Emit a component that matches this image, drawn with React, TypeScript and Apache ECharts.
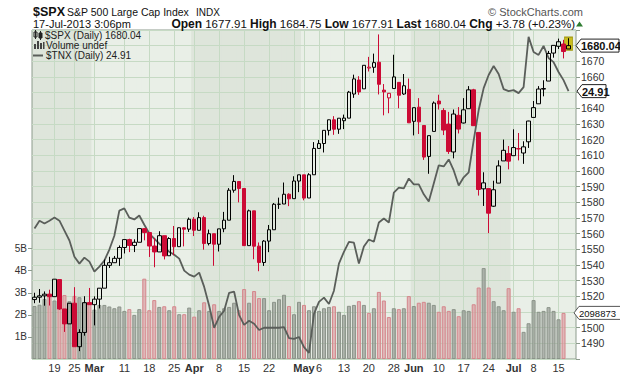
import { useEffect, useRef } from 'react';
import * as echarts from 'echarts';

const FONT = '"Liberation Sans", Arial, sans-serif';

const dates = [
  '2013-02-12','2013-02-13','2013-02-14','2013-02-15','2013-02-19','2013-02-20','2013-02-21','2013-02-22','2013-02-25','2013-02-26','2013-02-27','2013-02-28',
  '2013-03-01','2013-03-04','2013-03-05','2013-03-06','2013-03-07','2013-03-08','2013-03-11','2013-03-12','2013-03-13','2013-03-14','2013-03-15','2013-03-18','2013-03-19','2013-03-20','2013-03-21','2013-03-22','2013-03-25','2013-03-26','2013-03-27','2013-03-28',
  '2013-04-01','2013-04-02','2013-04-03','2013-04-04','2013-04-05','2013-04-08','2013-04-09','2013-04-10','2013-04-11','2013-04-12','2013-04-15','2013-04-16','2013-04-17','2013-04-18','2013-04-19','2013-04-22','2013-04-23','2013-04-24','2013-04-25','2013-04-26','2013-04-29','2013-04-30',
  '2013-05-01','2013-05-02','2013-05-03','2013-05-06','2013-05-07','2013-05-08','2013-05-09','2013-05-10','2013-05-13','2013-05-14','2013-05-15','2013-05-16','2013-05-17','2013-05-20','2013-05-21','2013-05-22','2013-05-23','2013-05-24','2013-05-28','2013-05-29','2013-05-30','2013-05-31',
  '2013-06-03','2013-06-04','2013-06-05','2013-06-06','2013-06-07','2013-06-10','2013-06-11','2013-06-12','2013-06-13','2013-06-14','2013-06-17','2013-06-18','2013-06-19','2013-06-20','2013-06-21','2013-06-24','2013-06-25','2013-06-26','2013-06-27','2013-06-28',
  '2013-07-01','2013-07-02','2013-07-03','2013-07-05','2013-07-08','2013-07-09','2013-07-10','2013-07-11','2013-07-12','2013-07-15','2013-07-16','2013-07-17'
];

const opens = [
  1517.93,1519.43,1520.33,1521.38,1519.79,1530.69,1511.95,1502.42,1515.60,1487.85,1496.94,1515.99,
  1514.68,1518.20,1525.20,1539.79,1541.46,1544.26,1551.15,1556.22,1552.48,1554.52,1563.21,1560.70,1552.10,1548.34,1558.71,1545.90,1556.89,1551.69,1563.75,1562.86,
  1569.18,1562.17,1570.25,1553.69,1559.98,1553.26,1563.11,1568.61,1587.73,1593.30,1588.84,1552.36,1574.57,1552.03,1541.61,1555.25,1562.50,1578.78,1578.93,1585.16,1582.34,1593.58,
  1597.55,1582.77,1597.60,1614.40,1617.55,1625.95,1632.69,1626.69,1632.10,1633.75,1649.13,1658.07,1652.45,1665.71,1666.20,1669.39,1651.62,1646.67,1652.63,1656.57,1649.14,1652.13,
  1631.71,1640.73,1629.05,1609.29,1625.27,1644.67,1638.64,1629.94,1612.15,1635.52,1630.64,1639.77,1651.83,1624.62,1588.62,1588.77,1577.52,1592.27,1606.44,1611.12,
  1609.78,1614.29,1611.48,1618.65,1634.20,1642.89,1652.29,1657.41,1675.26,1679.59,1681.05,1677.91
];
const highs = [
  1522.29,1524.69,1523.14,1524.24,1530.94,1530.69,1511.95,1515.64,1525.84,1498.99,1520.08,1525.34,
  1519.99,1525.27,1543.47,1545.25,1545.78,1552.48,1556.27,1556.77,1556.39,1563.32,1563.62,1560.70,1557.25,1561.56,1558.71,1557.74,1564.91,1563.95,1564.07,1570.28,
  1570.57,1573.66,1571.47,1562.60,1559.98,1563.07,1573.89,1589.07,1597.35,1593.30,1588.84,1575.35,1574.57,1554.38,1555.89,1565.55,1579.58,1583.00,1592.64,1585.78,1596.65,1597.57,
  1597.55,1598.60,1618.46,1619.77,1626.03,1632.78,1635.01,1633.70,1636.00,1651.10,1661.49,1660.51,1667.47,1672.84,1674.93,1687.18,1655.50,1649.78,1674.21,1656.57,1661.91,1658.99,
  1640.42,1646.53,1629.31,1622.56,1644.40,1648.69,1640.13,1637.71,1639.25,1640.80,1646.50,1654.19,1652.45,1624.62,1599.19,1588.77,1593.79,1606.83,1620.07,1615.94,
  1626.61,1624.26,1618.97,1632.07,1644.68,1654.18,1657.92,1676.63,1680.19,1684.51,1683.73,1684.75
];
const lows = [
  1515.61,1515.93,1514.02,1514.14,1519.79,1511.41,1497.29,1502.42,1487.85,1485.01,1494.88,1514.46,
  1501.48,1512.29,1525.20,1538.11,1541.46,1539.46,1547.36,1548.24,1548.25,1554.52,1555.74,1545.13,1538.57,1548.34,1543.55,1545.90,1546.22,1551.69,1551.90,1561.08,
  1558.47,1562.17,1549.80,1552.52,1539.50,1548.63,1560.92,1568.61,1586.17,1579.97,1552.28,1552.36,1543.69,1536.03,1539.40,1548.19,1562.50,1575.80,1578.93,1577.56,1582.34,1586.50,
  1581.28,1582.77,1597.60,1614.21,1611.82,1622.70,1623.09,1623.71,1626.74,1633.75,1646.68,1648.60,1652.45,1663.52,1662.67,1648.86,1635.53,1636.88,1652.63,1640.05,1648.61,1630.74,
  1622.72,1623.62,1607.09,1598.23,1625.27,1639.26,1622.92,1610.92,1608.07,1623.96,1630.34,1639.77,1628.91,1584.32,1577.70,1560.33,1577.09,1592.27,1606.44,1601.06,
  1609.78,1606.77,1604.57,1614.71,1634.20,1642.89,1647.66,1657.41,1672.33,1677.89,1671.84,1677.91
];
const closes = [
  1519.43,1520.33,1521.38,1519.79,1530.94,1511.95,1502.42,1515.60,1487.85,1496.94,1515.99,1514.68,
  1518.20,1525.20,1539.79,1541.46,1544.26,1551.18,1556.22,1552.48,1554.52,1563.23,1560.70,1552.10,1548.34,1558.71,1545.80,1556.89,1551.69,1563.77,1562.85,1569.19,
  1562.17,1570.25,1553.69,1559.98,1553.28,1563.07,1568.61,1587.73,1593.37,1588.85,1552.36,1574.57,1552.01,1541.61,1555.25,1562.50,1578.78,1578.79,1585.16,1582.24,1593.61,1597.57,
  1582.70,1597.59,1614.42,1617.50,1625.96,1632.69,1626.67,1633.70,1633.77,1650.34,1658.78,1650.47,1667.47,1666.29,1669.16,1655.35,1650.51,1649.60,1660.06,1648.36,1654.41,1630.74,
  1640.42,1631.38,1608.90,1622.56,1643.38,1642.81,1626.13,1612.52,1636.36,1626.73,1639.04,1651.81,1628.93,1588.19,1592.43,1573.09,1588.03,1603.26,1613.20,1606.28,
  1614.96,1614.08,1615.41,1631.89,1640.46,1652.32,1652.62,1675.02,1680.19,1682.50,1676.26,1680.04
];

// volume in billions (last day not yet drawn)
const volumes: (number | null)[] = [
  2.40,2.46,2.72,2.95,2.65,2.88,2.90,2.62,2.86,2.80,2.55,2.58,
  2.24,2.45,2.45,2.38,2.30,2.38,2.18,2.26,2.00,2.26,3.64,2.21,2.67,2.36,2.39,2.21,2.39,2.03,2.03,2.33,
  1.92,2.21,2.57,2.18,2.48,2.18,2.30,2.36,2.55,2.21,3.17,2.55,3.08,2.76,2.76,2.21,2.59,2.71,2.91,2.40,2.03,2.59,
  2.45,2.21,2.39,2.18,2.30,2.36,2.39,2.14,2.00,2.41,2.45,2.62,2.45,2.09,2.30,3.04,2.65,1.90,2.30,2.26,2.30,2.85,
  2.40,2.55,2.59,2.55,2.45,2.14,2.39,2.18,2.26,1.94,2.21,2.18,2.48,3.24,4.12,3.24,2.62,2.39,2.21,3.21,
  2.14,2.30,1.23,1.62,2.67,2.14,2.18,2.35,2.18,1.80,2.09,null
];
const lastVolumeLabel = '2098873';

const tnx = [
  20.01,20.26,20.17,20.26,20.36,20.26,19.94,19.63,19.13,18.92,19.10,18.98,
  18.68,18.83,19.01,19.35,19.78,20.59,20.66,20.36,20.30,20.43,20.13,19.85,19.69,19.53,19.41,19.28,19.19,19.07,18.71,18.59,
  18.53,18.65,18.23,17.69,17.08,17.38,17.55,18.06,18.09,17.43,17.16,17.27,17.19,17.02,17.08,17.08,17.08,17.08,17.10,16.80,16.78,16.83,
  16.56,16.41,17.46,17.80,17.92,17.74,18.12,18.92,19.28,19.59,19.56,18.92,19.44,19.66,19.59,20.20,20.33,20.20,21.19,21.36,21.33,21.67,
  21.47,21.47,21.13,20.89,21.50,22.13,22.09,22.34,21.95,21.43,21.71,21.88,23.03,24.17,25.03,25.56,25.93,25.60,24.99,24.91,
  24.95,24.83,25.07,27.16,26.51,26.39,26.77,26.26,26.09,25.68,25.35,24.91
];

const tickDates = ['2013-02-19','2013-02-25','2013-03-01','2013-03-11','2013-03-18','2013-03-25','2013-04-01','2013-04-08','2013-04-15','2013-04-22','2013-05-01','2013-05-06','2013-05-13','2013-05-20','2013-05-28','2013-06-03','2013-06-10','2013-06-17','2013-06-24','2013-07-01','2013-07-08','2013-07-15'];
const tickTexts = ['19','25','Mar','11','18','25','Apr','8','15','22','May','6','13','20','28','Jun','10','17','24','Jul','8','15'];
const extraGridDates = ['2013-04-29'];
const volumeTicks = [1, 2, 3, 4, 5];

const RED = '#cc0a35';
const BLACK = '#000000';

export default function App() {
  const ref = useRef<HTMLDivElement>(null);
  useEffect(() => {
    const chart = echarts.init(ref.current!, null, { renderer: 'svg' });
    const cats = [...dates, 'pad'];
    const labelMap = new Map<string, string>();
    tickDates.forEach((d, i) => labelMap.set(d, tickTexts[i]));
    const gridSet = new Set<string>([...tickDates, ...extraGridDates]);
    const n = dates.length;
    const upDay = (i: number) => (i === 0 ? closes[0] >= opens[0] : closes[i] >= closes[i - 1]);

    const candleData = dates.map((_, i) => {
      const col = upDay(i) ? BLACK : RED;
      const filled = closes[i] < opens[i];
      const fill = filled ? col : 'rgba(0,0,0,0)';
      return {
        value: [opens[i], closes[i], lows[i], highs[i]],
        itemStyle: { color: fill, color0: fill, borderColor: col, borderColor0: col, borderWidth: 1 },
      };
    });
    const volData = volumes.map((v, i) =>
      v == null
        ? '-'
        : {
            value: v,
            itemStyle: upDay(i)
              ? { color: 'rgba(150,155,148,0.7)', borderColor: '#8b9389' }
              : { color: 'rgba(218,160,164,0.7)', borderColor: '#d5868c' },
          }
    );
    const shadeData = cats.map((d) => {
      const m = d === 'pad' ? 7 : parseInt(d.slice(5, 7), 10);
      return { value: 1, itemStyle: { color: m % 2 === 0 ? '#dee5db' : '#e9efe7' } };
    });

    const hidden = [1480, 1510, 1650, 1680, 1690];
    chart.setOption({
      animation: false,
      grid: { left: 32, right: 44, top: 30, bottom: 17, show: true, borderColor: '#8c9b8c', borderWidth: 1, backgroundColor: 'transparent' },
      xAxis: [
        {
          type: 'category', data: cats, boundaryGap: true,
          axisLine: { show: false }, axisTick: { show: false },
          axisLabel: {
            interval: (_i: number, v: string) => labelMap.has(v),
            formatter: (v: string) => {
              const t = labelMap.get(v) || '';
              return /^[A-Z]/.test(t) ? '{m|' + t + '}' : t;
            },
            margin: 3, fontSize: 11, color: '#333', fontFamily: FONT,
            rich: { m: { fontWeight: 'bold', fontSize: 11, color: '#333', fontFamily: FONT } },
          },
          splitLine: {
            show: true, alignWithLabel: true,
            interval: (_i: number, v: string) => gridSet.has(v),
            lineStyle: { color: '#c6dac4', width: 1 },
          },
        },
        { type: 'category', data: cats, boundaryGap: true, show: false },
      ],
      yAxis: [
        {
          type: 'value', position: 'right', min: 1480, max: 1690, interval: 10,
          axisLine: { show: false },
          axisTick: { show: true, length: 4, lineStyle: { color: '#8c9b8c' } },
          axisLabel: { margin: 5, fontSize: 10.5, color: '#333', fontFamily: FONT, formatter: (v: number) => (hidden.includes(v) ? '' : String(v)) },
          splitLine: { show: true, lineStyle: { color: '#c6dac4', width: 1 } },
        },
        {
          type: 'value', position: 'left', min: 0, max: 328 / 22, interval: 1,
          axisLine: { show: false },
          axisTick: { show: true, length: 4, customValues: volumeTicks, lineStyle: { color: '#8c9b8c' } },
          axisLabel: { margin: 5, fontSize: 10, color: '#333', fontFamily: FONT, customValues: volumeTicks,
            formatter: (v: number) => (volumeTicks.includes(v) ? v + 'B' : '') },
          splitLine: { show: false },
        },
        { type: 'log', min: 16.25, max: 27.46, show: false },
        { type: 'value', min: 0, max: 1, show: false },
      ],
      series: [
        { type: 'bar', name: 'shade', xAxisIndex: 1, yAxisIndex: 3, data: shadeData, barWidth: 6, z: -1, silent: true },
        { type: 'bar', name: 'Volume', xAxisIndex: 0, yAxisIndex: 1, data: volData, barWidth: 4, itemStyle: { borderWidth: 1 }, silent: true, z: 2 },
        { type: 'line', name: '$TNX', xAxisIndex: 0, yAxisIndex: 2, data: tnx, symbol: 'none', lineStyle: { color: '#5a5e5a', width: 1.8 }, silent: true, z: 3 },
        {
          type: 'candlestick', name: '$SPX', xAxisIndex: 0, yAxisIndex: 0, data: candleData, barWidth: 4, z: 4, silent: true,
          markPoint: {
            z: 3, silent: true, symbol: 'rect', symbolSize: [8, 13], label: { show: false },
            itemStyle: { color: '#c9bd1f', borderColor: '#a49a12', borderWidth: 1 },
            data: [{ coord: [dates[n - 1], (highs[n - 1] + lows[n - 1]) / 2] }],
          },
        },
      ],
    });

    const yPrice = chart.convertToPixel({ yAxisIndex: 0 }, closes[n - 1]) as number;
    const yTnx = chart.convertToPixel({ yAxisIndex: 2 }, tnx[n - 1]) as number;
    let lastVol = 0;
    for (let i = n - 1; i >= 0; i--) if (volumes[i] != null) { lastVol = volumes[i] as number; break; }
    const yVol = chart.convertToPixel({ yAxisIndex: 1 }, lastVol) as number;

    const box = (y: number, x0: number, x1: number, text: string, bold: boolean, stroke: string, size: number) => [
      { type: 'polygon', z: 100, shape: { points: [[x0, y], [x0 + 5, y - 6.5], [x1, y - 6.5], [x1, y + 6.5], [x0 + 5, y + 6.5]] }, style: { fill: '#fff', stroke, lineWidth: 1 } },
      { type: 'text', z: 101, x: x0 + 5, y: y + 0.5, style: { text, fill: '#111', fontSize: size, fontWeight: bold ? 'bold' : 'normal', fontFamily: FONT, align: 'left', verticalAlign: 'middle' } },
    ];
    const txt = (x: number, y: number, text: string, size: number, extra: any = {}) => ({
      type: 'text', z: 100, x, y, style: { text, fontSize: size, fontFamily: FONT, fill: '#111', verticalAlign: 'middle', align: 'left', ...extra },
    });

    chart.setOption({
      graphic: [
        txt(33, 12, '$SPX', 12.5, { fontWeight: 'bold' }),
        txt(67, 12, 'S&P 500 Large Cap Index', 10.5),
        txt(196, 12.5, 'INDX', 10),
        txt(583, 12, '© StockCharts.com', 11, { align: 'right', fill: '#555' }),
        txt(33, 24, '17-Jul-2013 3:06pm', 11),
        {
          type: 'text', z: 100, x: 575, y: 24,
          style: {
            text: '{b|Open} 1677.91 {b|High} 1684.75 {b|Low} 1677.91 {b|Last} 1680.04 {b|Chg} +3.78 (+0.23%)',
            fontSize: 11.5, fontFamily: FONT, fill: '#111', align: 'right', verticalAlign: 'middle',
            rich: { b: { fontWeight: 'bold', fontSize: 12, fontFamily: FONT, fill: '#111' } },
          },
        },
        { type: 'polygon', z: 100, shape: { points: [[576, 26.5], [583, 26.5], [579.5, 21.5]] }, style: { fill: '#2f7d32' } },
        // legend icons
        { type: 'rect', z: 100, shape: { x: 34, y: 32, width: 3, height: 5 }, style: { fill: 'none', stroke: '#222', lineWidth: 1 } },
        { type: 'line', z: 100, shape: { x1: 35.5, y1: 30, x2: 35.5, y2: 39 }, style: { stroke: '#222', lineWidth: 1 } },
        { type: 'rect', z: 100, shape: { x: 39, y: 33, width: 3, height: 5 }, style: { fill: '#222', stroke: '#222', lineWidth: 1 } },
        { type: 'line', z: 100, shape: { x1: 40.5, y1: 31, x2: 40.5, y2: 40 }, style: { stroke: '#222', lineWidth: 1 } },
        txt(45, 35.5, '$SPX (Daily) 1680.04', 10, { fill: '#222' }),
        { type: 'rect', z: 100, shape: { x: 34, y: 44, width: 2, height: 5 }, style: { fill: '#444' } },
        { type: 'rect', z: 100, shape: { x: 37, y: 41, width: 2, height: 8 }, style: { fill: '#444' } },
        { type: 'rect', z: 100, shape: { x: 40, y: 43, width: 2, height: 6 }, style: { fill: '#444' } },
        { type: 'rect', z: 100, shape: { x: 43, y: 42, width: 1.5, height: 7 }, style: { fill: '#444' } },
        txt(46, 45.5, 'Volume undef', 10, { fill: '#222' }),
        { type: 'line', z: 100, shape: { x1: 33, y1: 55.5, x2: 43, y2: 55.5 }, style: { stroke: '#5a5e5a', lineWidth: 2 } },
        txt(46, 55.5, '$TNX (Daily) 24.91', 10, { fill: '#222' }),
        ...box(yPrice, 576, 619, '1680.04', true, '#222', 11),
        ...box(yTnx, 577, 606, '24.91', true, '#222', 11),
        ...box(yVol, 574, 626, lastVolumeLabel, false, '#555', 9.5),
      ],
    });

    return () => chart.dispose();
  }, []);
  return <div ref={ref} style={{ position: 'fixed', left: 0, top: 0, width: 620, height: 376, background: '#fff' }} />;
}
